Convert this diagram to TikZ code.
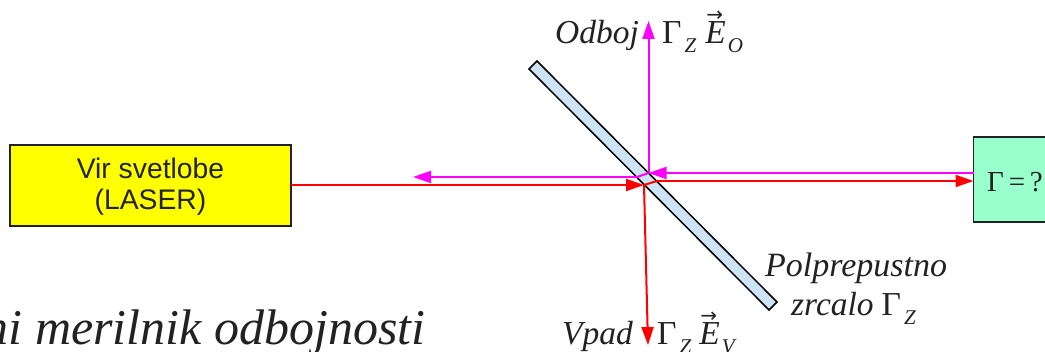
\documentclass[tikz,border=0pt]{standalone}
\usepackage{fontspec}
\usetikzlibrary{arrows.meta,calc}
\setmainfont{Liberation Serif}
\newfontfamily\lsans{Liberation Sans}
\newfontfamily\djv{DejaVu Sans}
\newcommand{\fsz}[1]{\fontsize{#1}{#1}\selectfont}
\newcommand{\vE}{\hbox{\rlap{\raisebox{0.67em}{\hspace{0.03em}\fsz{20}\djv →}}\textit{E}}}
\newcommand{\subz}[1]{\hspace{3pt}\raisebox{-0.26em}{\fsz{21}\textit{#1}}}
\definecolor{mag}{RGB}{255,0,255}
\definecolor{rd}{RGB}{255,0,0}
\definecolor{yel}{RGB}{255,255,0}
\definecolor{grn}{RGB}{153,255,204}
\definecolor{mir}{RGB}{204,228,245}
\definecolor{ink}{RGB}{34,34,34}
\tikzset{
  x=1pt,y=-1pt,
  boxst/.style={draw=ink,line width=1.6pt,minimum height=#1,inner sep=0pt,outer sep=0pt,anchor=west},
  lab/.style={inner sep=0pt,anchor=base west,text=ink,font=\fsz{33.5}},
  rbeam/.style={draw=rd,line width=2pt},
  mbeam/.style={draw=mag,line width=2pt},
  tip/.style={-{Triangle[length=18pt,width=12pt]}},
}
\begin{document}
\begin{tikzpicture}
\useasboundingbox (0,0) rectangle (1045,352);
\clip (0,0) rectangle (1045,352);
\fill[white] (0,0) rectangle (1045,352);
% mirror
\draw[draw=black,line width=1.5pt,fill=mir] (537,61) -- (777,302) -- (769,310) -- (529,69) -- cycle;
% boxes
\node[boxst=81pt,fill=yel,minimum width=281pt,font=\lsans\fsz{28.3},text=ink] (src) at (10,185.5) {};
\node[inner sep=0pt,align=center,font=\lsans\fsz{28.3},text=ink] (srct) at (150.5,186.5) {Vir svetlobe\\[3pt](LASER)};
\node[boxst=85pt,fill=grn,minimum width=90pt] (dut) at (973.5,179.5) {};
\node[lab,font=\fsz{29}] (gam) at (987,192) {Γ\,=\,?};
% beam junctions
\coordinate (mR) at (dut.west |- 0,173);
\coordinate (rR) at (dut.west |- 0,181);
\coordinate (mT) at (648.5,173);
\coordinate (mL) at (637,177);
\coordinate (mE) at (413,177);
\coordinate (mU) at (648.5,21);
\coordinate (rT) at (644,185);
\coordinate (rK) at (657,181);
\coordinate (rD) at (648,345);
\coordinate (sE) at (src.east |- 0,185);
% beams
\draw[mbeam] (mT) -- (mL);
\draw[mbeam,tip] (mL) -- (mE);
\draw[mbeam,tip] (mR) -- (mT);
\draw[mbeam,tip] (mT) -- (mU);
\draw[rbeam,tip] (sE) -- (rT);
\draw[rbeam] (rT) -- (rK);
\draw[rbeam,tip] (rK) -- (rR);
\draw[rbeam,tip] (rT) -- (rD);
% labels
\node[lab] (odb) at (555,44) {\textit{Odboj}};
\node[lab] (go) at (662,44) {Γ\subz{Z}\hspace{9pt}\vE\hspace{-1pt}\subz{O}};
\node[lab] (vp) at (562,345) {\textit{Vpad}};
\node[lab] (gv) at (657,345) {Γ\subz{Z}\hspace{8pt}\vE\hspace{-1pt}\subz{V}};
\node[lab,font=\fsz{34}] (pol) at (765,277) {\textit{Polprepustno}};
\node[lab] (zrc) at (791,316) {\textit{zrcalo}\hspace{8pt}Γ\subz{Z}};
\node[lab,font=\fsz{50}] (mer) at (-16.5,345) {\textit{ni merilnik odbojnosti}};
\end{tikzpicture}
\end{document}
